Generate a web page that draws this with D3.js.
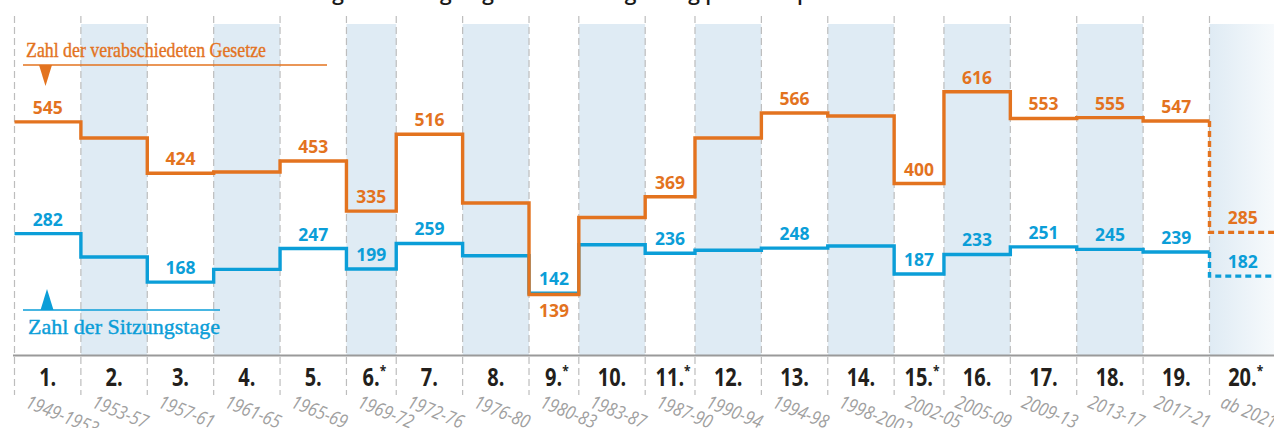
<!DOCTYPE html>
<html><head>
<meta charset="utf-8">
<title>Gesetze und Sitzungstage</title>
<script src="https://cdn.jsdelivr.net/npm/d3@7/dist/d3.min.js"></script>
<style>
  body { margin: 0; background: #fff; }
  svg { display: block; }
  .grid line { stroke: #bdbdbd; stroke-width: 1.2; stroke-dasharray: 7,4; }
  .val { font-family: "Open Sans", "Noto Sans", sans-serif; font-weight: 700; font-size: 17.5px; text-anchor: middle; }
  .num { font-family: "Open Sans", "Noto Sans", sans-serif; font-weight: 700; font-size: 25px; fill: #231f1c; text-anchor: middle; }
  .per { font-family: "Open Sans", "Noto Sans", sans-serif; font-style: italic; font-size: 19px; fill: #a0a0a0; }
  .legend { font-family: "Liberation Serif", "DejaVu Serif", serif; font-size: 21px; stroke-width: 0.4px; }
</style>
</head>
<body>
<svg id="chart" width="1274" height="428"></svg>

<script>
// Wahlperioden
var periodLabels = ["1.", "2.", "3.", "4.", "5.", "6.*", "7.", "8.", "9.*", "10.",
                    "11.*", "12.", "13.", "14.", "15.*", "16.", "17.", "18.", "19.", "20.*"];
var periodYears = ["1949-1953", "1953-57", "1957-61", "1961-65", "1965-69", "1969-72", "1972-76",
                   "1976-80", "1980-83", "1983-87", "1987-90", "1990-94", "1994-98", "1998-2002",
                   "2002-05", "2005-09", "2009-13", "2013-17", "2017-21", "ab 2021"];
var startYears = [1949, 1953, 1957, 1961, 1965, 1969, 1972, 1976, 1980, 1983,
                  1987, 1990, 1994, 1998, 2002, 2005, 2009, 2013, 2017, 2021];
var endYear = 2025;

var gesetze = [545, 507, 424, 427, 453, 335, 516, 354, 139, 320,
               369, 507, 566, 559, 400, 616, 553, 555, 547, 285];
var sitzungstage = [282, 227, 168, 198, 247, 199, 259, 230, 142, 256,
                    236, 243, 248, 253, 187, 233, 251, 245, 239, 182];

// periods that get a value label
var labelled = [1, 3, 5, 6, 7, 9, 11, 13, 15, 16, 17, 18, 19, 20];

var orange = "#e3731f";
var blue = "#0b9ed8";

var svg = d3.select("#chart");

var x = d3.scaleLinear().domain([1949, 2021]).range([14.5, 1209.5]);
var y = d3.scaleLinear().domain([0, 616]).range([353.5, 91.7]);

var defs = svg.append("defs");
var grad = defs.append("linearGradient").attr("id", "fade");
grad.append("stop").attr("offset", "0%").attr("stop-color", "#dfebf4");
grad.append("stop").attr("offset", "100%").attr("stop-color", "#f7fafc");

// title (mostly cut off at the top)
svg.append("text")
  .attr("x", 18).attr("y", 0)
  .style("font-family", "Open Sans, sans-serif").style("font-size", "21px").style("font-weight", 600)
  .attr("fill", "#1a1a1a")
  .text("Die Arbeitsbilanz des Bundestages: Sitzungstage und Gesetzgebung pro Wahlperiode");

var cols = startYears.map(function(s, i) {
  return { i: i, x0: x(s), x1: x(i < startYears.length - 1 ? startYears[i + 1] : endYear) };
});

// shaded columns
svg.append("g").selectAll("rect")
  .data(cols.filter(function(c) { return c.i % 2 === 1; }))
  .enter().append("rect")
  .attr("x", function(c) { return c.x0; })
  .attr("y", 24)
  .attr("width", function(c) { return c.x1 - c.x0; })
  .attr("height", 331)
  .attr("fill", function(c) { return c.i === cols.length - 1 ? "url(#fade)" : "#dfebf4"; });

// dashed separators
svg.append("g").classed("grid", true).selectAll("line")
  .data(startYears)
  .enter().append("line")
  .attr("x1", function(d) { return x(d); })
  .attr("x2", function(d) { return x(d); })
  .attr("y1", 16).attr("y2", 395);

// baseline
svg.append("line")
  .attr("x1", 13).attr("x2", 1274)
  .attr("y1", 355.5).attr("y2", 355.5)
  .attr("stroke", "#9a9a9a").attr("stroke-width", 2);

// step lines
var stepLine = d3.line()
  .x(function(d) { return x(d[0]); })
  .y(function(d) { return y(d[1]); })
  .curve(d3.curveStepAfter);

function drawSeries(values, color) {
  var n = values.length - 1;   // last period is still running -> dashed
  var pts = [];
  for (var i = 0; i < n; i++) pts.push([startYears[i], values[i]]);
  pts.push([startYears[n], values[n - 1]]);
  svg.append("path")
    .attr("d", stepLine(pts))
    .attr("fill", "none").attr("stroke", color).attr("stroke-width", 3.4)
    .attr("stroke-linejoin", "miter");

  var dashPts = [[startYears[n], values[n - 1]], [startYears[n], values[n]], [endYear, values[n]]];
  svg.append("path")
    .attr("d", d3.line().x(function(d) { return x(d[0]); }).y(function(d) { return y(d[1]); })(dashPts))
    .attr("fill", "none").attr("stroke", color).attr("stroke-width", 3.4)
    .attr("stroke-dasharray", "6,4");
}

drawSeries(sitzungstage, blue);
drawSeries(gesetze, orange);

// value labels
function drawLabels(values, color, below) {
  svg.append("g").selectAll("text")
    .data(cols.filter(function(c) { return labelled.indexOf(c.i + 1) >= 0; }))
    .enter().append("text")
    .classed("val", true)
    .attr("fill", color)
    .attr("x", function(c) { return (c.x0 + c.x1) / 2; })
    .attr("y", function(c) {
      return below.indexOf(c.i + 1) >= 0 ? y(values[c.i]) + 23 : y(values[c.i]) - 8;
    })
    .text(function(c) { return values[c.i]; });
}
drawLabels(sitzungstage, blue, []);
drawLabels(gesetze, orange, [9]);

// period numbers (condensed look via horizontal squeeze)
var nums = svg.append("g").selectAll("text")
  .data(cols).enter().append("text")
  .classed("num", true)
  .attr("transform", function(c) {
    var cx = (c.x0 + c.x1) / 2 + (periodLabels[c.i].indexOf("*") >= 0 ? 3 : 0);
    return "translate(" + cx + ",386) scale(0.8,1)";
  });
nums.append("tspan").text(function(c) { return periodLabels[c.i].replace("*", ""); });
nums.filter(function(c) { return periodLabels[c.i].indexOf("*") >= 0; })
  .append("tspan").attr("dy", -10).style("font-size", "15px").text("*");

// period years, slanted
svg.append("g").selectAll("text")
  .data(cols).enter().append("text")
  .classed("per", true)
  .attr("transform", function(c) { return "translate(" + (c.x0 + 10) + ",407) rotate(22) scale(0.85,1)"; })
  .text(function(c) { return periodYears[c.i]; });

// legend
svg.append("text").classed("legend", true).attr("fill", orange).attr("stroke", orange)
  .attr("x", 26).attr("y", 57)
  .attr("textLength", 240).attr("lengthAdjust", "spacingAndGlyphs")
  .text("Zahl der verabschiedeten Gesetze");
svg.append("line").attr("x1", 23).attr("x2", 327).attr("y1", 65).attr("y2", 65)
  .attr("stroke", orange).attr("stroke-width", 1.6);
svg.append("path").attr("d", "M39,65 L52,65 L45.5,86 Z").attr("fill", orange);

svg.append("text").classed("legend", true).attr("fill", blue).attr("stroke", blue)
  .attr("x", 28).attr("y", 334)
  .attr("textLength", 192).attr("lengthAdjust", "spacingAndGlyphs")
  .text("Zahl der Sitzungstage");
svg.append("line").attr("x1", 23).attr("x2", 220).attr("y1", 310).attr("y2", 310)
  .attr("stroke", blue).attr("stroke-width", 1.6);
svg.append("path").attr("d", "M40.5,310 L53.5,310 L47,289 Z").attr("fill", blue);
</script>
</body>
</html>
